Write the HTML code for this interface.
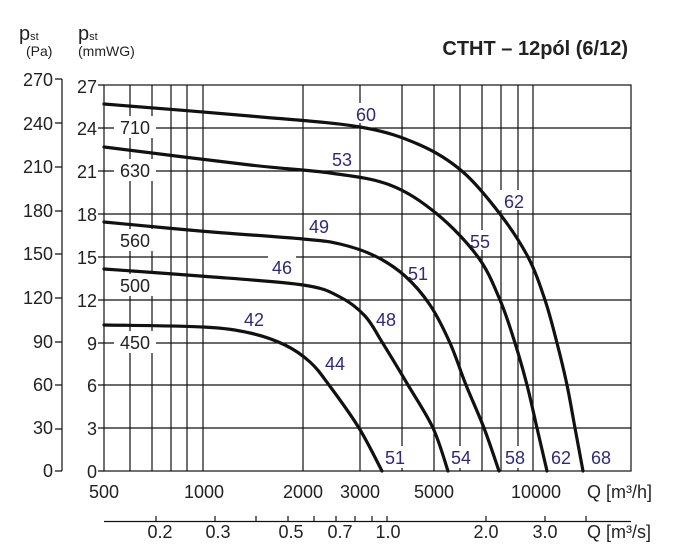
<!DOCTYPE html><html><head><meta charset="utf-8"><style>body{margin:0;background:#fff}svg{display:block}text{font-family:"Liberation Sans",sans-serif}</style></head><body>
<svg id="s" width="674" height="551" viewBox="0 0 674 551" xmlns="http://www.w3.org/2000/svg">
<g stroke="#111" stroke-width="1.2" fill="none">
<rect x="104" y="85" width="527" height="386"/>
<path d="M104 128H631M104 171H631M104 214H631M104 257H631M104 300H631M104 343H631M104 385H631M104 428H631"/>
<path d="M130 85V471M152 85V471M171 85V471M187 85V471M203 85V471M303 85V471M360 85V471M402 85V471M434 85V471M460 85V471M482 85V471M501 85V471M518 85V471M533 85V471"/>
<path d="M62 79V471M55 79H62M55 123H62M55 167H62M55 211H62M55 254H62M55 298H62M55 342H62M55 385H62M55 429H62M55 471H62"/>
<path d="M98 85H104M98 128H104M98 171H104M98 214H104M98 257H104M98 300H104M98 343H104M98 385H104M98 428H104M98 471H104"/>
<path d="M104 521.5H631M156 521V516M215 521V516M256 521V516M288 521V516M314 521V516M336 521V516M355 521V516M372 521V516M387 521V516M486 521V516M545 521V516M586 521V516"/>
</g>
<g fill="#fff"><rect x="114" y="116" width="42" height="22"/><rect x="114" y="159" width="42" height="22"/><rect x="114" y="229" width="42" height="22"/><rect x="114" y="274" width="42" height="22"/><rect x="114" y="331" width="42" height="22"/>
<rect x="352" y="103" width="28" height="20"/><rect x="328" y="148" width="28" height="20"/><rect x="500" y="190" width="28" height="20"/><rect x="466" y="230" width="28" height="20"/><rect x="305" y="216" width="28" height="20"/><rect x="404" y="262" width="28" height="20"/><rect x="268" y="256" width="28" height="20"/><rect x="372" y="309" width="28" height="20"/><rect x="240" y="308" width="28" height="20"/><rect x="321" y="352" width="28" height="20"/>
<rect x="382" y="446" width="28" height="22"/><rect x="446" y="446" width="28" height="22"/><rect x="502" y="446" width="28" height="22"/><rect x="547" y="446" width="28" height="22"/><rect x="588" y="446" width="28" height="22"/></g>
<g id="c" stroke="#111" stroke-width="3.2" fill="none" stroke-linecap="round">
<path d="M104 104L250 116L360 127L420 145L463 172L500 214L528 257L545 300L557 343L567 385L575 428L583 471"/>
<path d="M104 147L250 165L330 173L390 185L437 214L478 257L500 300L515 343L527 385L537 428L547 471"/>
<path d="M104 222L200 231L303 239L340 244L375 256L405 276L430 305L450 343L466 385L484 428L499 471"/>
<path d="M104 269L200 276L303 285L340 297L365 316L382 342L408 385L433 428L448 471"/>
<path d="M104 325L203 327L250 333L285 345L310 362L329 385L359 428L382 471"/>
</g>
<g font-size="18" fill="#222">
<text x="135" y="134" text-anchor="middle">710</text><text x="135" y="177" text-anchor="middle">630</text><text x="135" y="247" text-anchor="middle">560</text><text x="135" y="292" text-anchor="middle">500</text><text x="135" y="349" text-anchor="middle">450</text>
<g text-anchor="end"><text x="53" y="86">270</text><text x="53" y="130">240</text><text x="53" y="173">210</text><text x="53" y="217">180</text><text x="53" y="260">150</text><text x="53" y="304">120</text><text x="53" y="348">90</text><text x="53" y="391">60</text><text x="53" y="434">30</text><text x="53" y="477">0</text>
<text x="97" y="93">27</text><text x="97" y="135">24</text><text x="97" y="178">21</text><text x="97" y="221">18</text><text x="97" y="264">15</text><text x="97" y="307">12</text><text x="97" y="350">9</text><text x="97" y="392">6</text><text x="97" y="435">3</text><text x="97" y="478">0</text></g>
<g text-anchor="middle"><text x="104" y="498">500</text><text x="204" y="498">1000</text><text x="303" y="498">2000</text><text x="360" y="498">3000</text><text x="434" y="498">5000</text><text x="536" y="498">10000</text>
<text x="160" y="538">0.2</text><text x="218" y="538">0.3</text><text x="291" y="538">0.5</text><text x="340" y="538">0.7</text><text x="388" y="538">1.0</text><text x="486" y="538">2.0</text><text x="545" y="538">3.0</text></g>
<text x="587" y="498">Q [m³/h]</text><text x="587" y="538">Q [m³/s]</text>
<text x="19" y="40" font-size="20">p<tspan font-size="11">st</tspan></text><text x="26" y="56" font-size="14">(Pa)</text>
<text x="78" y="40" font-size="20">p<tspan font-size="11">st</tspan></text><text x="78" y="56" font-size="14">(mmWG)</text>
<text x="628" y="55" font-size="20" font-weight="bold" text-anchor="end">CTHT – 12pól (6/12)</text>
</g>
<g font-size="18" fill="#2e2a78" text-anchor="middle">
<text x="366" y="121">60</text><text x="342" y="166">53</text><text x="514" y="208">62</text><text x="480" y="248">55</text><text x="319" y="233">49</text><text x="418" y="280">51</text><text x="282" y="274">46</text><text x="386" y="326">48</text><text x="254" y="326">42</text><text x="335" y="370">44</text>
<text x="395" y="464">51</text><text x="461" y="464">54</text><text x="515" y="464">58</text><text x="561" y="464">62</text><text x="601" y="464">68</text>
</g>
</svg>
<script>
document.querySelectorAll('#c path').forEach(function(p){
var n=p.getAttribute('d').replace(/M/,'').split('L').map(function(s){return s.trim().split(/\s+/).map(Number)});
var d='M'+n[0][0]+' '+n[0][1];
for(var i=0;i<n.length-1;i++){var p0=n[i-1]||n[i],p1=n[i],p2=n[i+1],p3=n[i+2]||p2;
d+='C'+(p1[0]+(p2[0]-p0[0])/6)+' '+(p1[1]+(p2[1]-p0[1])/6)+' '+(p2[0]-(p3[0]-p1[0])/6)+' '+(p2[1]-(p3[1]-p1[1])/6)+' '+p2[0]+' '+p2[1];}
p.setAttribute('d',d);});
</script>
</body></html>
